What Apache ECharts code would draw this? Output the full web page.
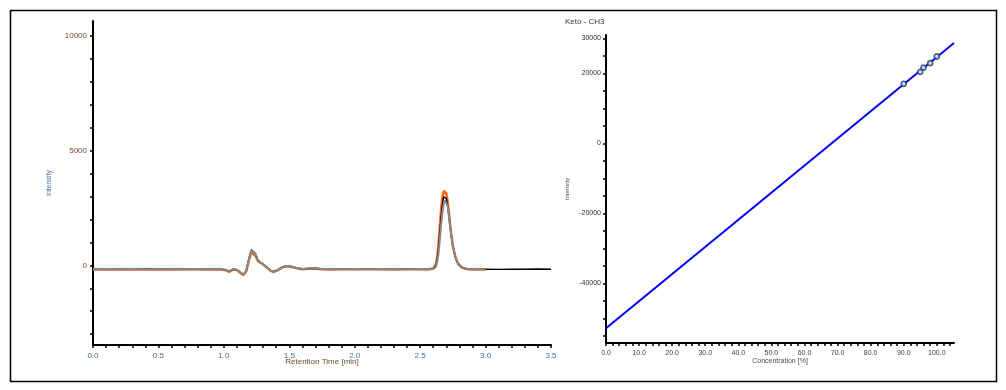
<!DOCTYPE html>
<html><head><meta charset="utf-8">
<script src="https://cdn.jsdelivr.net/npm/echarts@6/dist/echarts.min.js"></script>
<style>html,body{margin:0;padding:0;background:#fff}#c{width:1006px;height:390px}</style>
</head><body><div id="c"></div>
<script>
// ---- Chromatogram data ----
const rtTime = [0.00,0.10,0.20,0.30,0.40,0.50,0.60,0.70,0.80,0.90,
  0.98,1.02,1.04,1.07,1.10,1.13,1.15,1.17,1.19,1.21,
  1.22,1.24,1.26,1.28,1.30,1.33,1.36,1.38,1.41,1.44,
  1.47,1.50,1.55,1.60,1.65,1.70,1.75,1.80,1.90,2.00,
  2.10,2.20,2.30,2.40,2.50,2.56,2.60,2.62,2.63,2.64,
  2.65,2.66,2.67,2.68,2.69,2.70,2.71,2.72,2.73,2.74,
  2.75,2.77,2.79,2.82,2.86,2.90,2.95,3.00];
const rtTimeTail = [3.10,3.20,3.30,3.40,3.50];

const traceBlack = [-170,-175,-165,-170,-160,-170,-165,-175,-170,-165,
  -175,-200,-260,-170,-200,-330,-400,-250,250,680,
  760,520,230,130,60,-90,-230,-270,-210,-100,
  -40,-30,-110,-160,-140,-130,-165,-175,-170,-165,
  -170,-160,-175,-170,-165,-175,-150,-20,250,750,
  1400,2100,2650,2980,3050,2920,2600,2150,1650,1200,
  820,330,60,-100,-160,-175,-170,-170];
const traceBlackTail = [-175,-165,-170,-160,-168];

const traceOrange = [-180,-175,-185,-170,-180,-175,-180,-170,-175,-180,
  -180,-220,-290,-180,-210,-350,-420,-280,180,560,
  610,430,190,110,40,-110,-250,-290,-220,-110,
  -50,-40,-120,-170,-150,-140,-175,-180,-175,-170,
  -175,-170,-180,-175,-170,-180,-140,40,350,900,
  1650,2450,3000,3240,3260,3150,2800,2300,1750,1250,
  850,350,70,-100,-165,-180,-175,-180];

const tracePink = [-175,-185,-170,-180,-175,-185,-170,-180,-175,-170,
  -178,-210,-275,-175,-205,-340,-410,-265,200,600,
  660,470,210,120,50,-100,-240,-280,-215,-105,
  -45,-35,-115,-165,-145,-135,-170,-178,-172,-168,
  -172,-168,-178,-172,-168,-178,-145,20,320,850,
  1580,2380,2920,3160,3180,3080,2740,2250,1720,1230,
  840,340,65,-100,-165,-178,-172,-175];

const traceGray = [-172,-168,-175,-165,-170,-168,-172,-170,-165,-170,
  -172,-195,-255,-165,-195,-320,-395,-260,220,650,
  720,500,220,125,55,-95,-235,-270,-205,-95,
  -35,-25,-105,-155,-135,-125,-160,-170,-168,-163,
  -168,-160,-172,-168,-163,-172,-160,-70,120,500,
  1100,1750,2300,2680,2830,2800,2580,2150,1650,1200,
  830,360,80,-90,-155,-170,-168,-170];

const chromYTicks = [-3000,-2000,-1000,0,1000,2000,3000,4000,5000,6000,7000,8000,9000,10000];
const chromYLabels = [0,5000,10000];
const chromXTicks = [];
for (let i = 0; i <= 35; i++) chromXTicks.push(i / 10);
const chromXLabels = [0,0.5,1.0,1.5,2.0,2.5,3.0,3.5];

// ---- Calibration data ----
const calTitle = 'Keto - CH3';
const calConc = [90, 95, 96, 98, 100];
const calIntensity = [17000, 20400, 21600, 22900, 24800];
const calLineX = [0, 105.2];
const calLineY = [-52860, 28670];
const calYTicks = [-55000,-50000,-45000,-40000,-35000,-30000,-25000,-20000,-15000,-10000,-5000,0,5000,10000,15000,20000,25000,30000];
const calYLabels = [-40000,-20000,0,20000,30000];
const calXTicks = [];
for (let i = 0; i <= 52; i++) calXTicks.push(i * 2);
const calXLabels = [0,10,20,30,40,50,60,70,80,90,100];

const zip = (a, b) => a.map((v, i) => [v, b[i]]);
const FONT = 'Liberation Sans';

const chart = echarts.init(document.getElementById('c'), null, {renderer: 'canvas'});
const axisLineStyle = {show: true, onZero: false, lineStyle: {color: '#000', width: 2}};
const tickStyle = {lineStyle: {color: '#000', width: 1.5}, length: 3};

function lineSeries(name, data, color, width, z) {
  return {type: 'line', name, xAxisIndex: 0, yAxisIndex: 0, data, showSymbol: false,
    symbol: 'none', lineStyle: {color, width}, z, animation: false, silent: true};
}

chart.setOption({
  animation: false,
  graphic: [
    {type: 'rect', shape: {x: 10.5, y: 10.5, width: 986, height: 371},
     style: {fill: 'none', stroke: '#000', lineWidth: 1.5}, z: 100},
    {type: 'text', left: 565, top: 18, style: {text: calTitle, fontSize: 8, fontFamily: FONT, fill: '#333'}}
  ],
  grid: [
    {left: 93, top: 21, width: 458, height: 324},
    {left: 606, top: 35, width: 348, height: 308}
  ],
  xAxis: [
    {type: 'value', gridIndex: 0, min: 0, max: 3.5,
     axisLine: axisLineStyle, splitLine: {show: false},
     axisTick: Object.assign({customValues: chromXTicks}, tickStyle),
     axisLabel: {customValues: chromXLabels, formatter: v => v.toFixed(1), fontSize: 8, fontFamily: FONT, color: '#3d6d99', margin: 7},
     name: 'Retention Time [min]', nameLocation: 'middle', nameGap: 13, nameMoveOverlap: false,
     nameTextStyle: {fontSize: 8, fontFamily: FONT, color: '#6b4a2a'}},
    {type: 'value', gridIndex: 1, min: 0, max: 105.2,
     axisLine: axisLineStyle, splitLine: {show: false},
     axisTick: Object.assign({customValues: calXTicks}, tickStyle),
     axisLabel: {customValues: calXLabels, formatter: v => v.toFixed(1), fontSize: 7, fontFamily: FONT, color: '#4a3a2a', margin: 7},
     name: 'Concentration [%]', nameLocation: 'middle', nameGap: 15, nameMoveOverlap: false,
     nameTextStyle: {fontSize: 7, fontFamily: FONT, color: '#4a4a5a'}}
  ],
  yAxis: [
    {type: 'value', gridIndex: 0, min: -3470, max: 10640,
     axisLine: axisLineStyle, splitLine: {show: false},
     axisTick: Object.assign({customValues: chromYTicks}, tickStyle),
     axisLabel: {customValues: chromYLabels, formatter: v => String(v), fontSize: 8, fontFamily: FONT, color: '#7b3f20', margin: 6},
     name: 'Intensity', nameLocation: 'middle', nameGap: 40, nameRotate: 90, nameMoveOverlap: false,
     nameTextStyle: {fontSize: 7, fontFamily: FONT, color: '#4a72a8'}},
    {type: 'value', gridIndex: 1, min: -57060, max: 30940,
     axisLine: axisLineStyle, splitLine: {show: false},
     axisTick: Object.assign({customValues: calYTicks}, tickStyle),
     axisLabel: {customValues: calYLabels, formatter: v => String(v), fontSize: 7, fontFamily: FONT, color: '#3a2a2a', margin: 5},
     name: 'Intensity', nameLocation: 'middle', nameGap: 36, nameRotate: 90, nameMoveOverlap: false,
     nameTextStyle: {fontSize: 6, fontFamily: FONT, color: '#3a4a6a'}}
  ],
  series: [
    lineSeries('pink', zip(rtTime, tracePink), '#ff3d8b', 1.6, 1),
    lineSeries('orange', zip(rtTime, traceOrange), '#ff6a13', 2.4, 2),
    lineSeries('black', zip(rtTime.concat(rtTimeTail), traceBlack.concat(traceBlackTail)), '#000000', 1.4, 3),
    lineSeries('gray', zip(rtTime, traceGray), '#8a8a8a', 2, 4),
    {type: 'line', xAxisIndex: 1, yAxisIndex: 1, data: zip(calLineX, calLineY), showSymbol: false, symbol: 'none',
     lineStyle: {color: '#0000ff', width: 2}, z: 5, silent: true},
    {type: 'scatter', xAxisIndex: 1, yAxisIndex: 1, data: zip(calConc, calIntensity), symbol: 'circle', symbolSize: 5,
     itemStyle: {color: '#ffffff', borderColor: '#1d3f6e', borderWidth: 1.8}, z: 6, silent: true}
  ]
});
</script></body></html>
